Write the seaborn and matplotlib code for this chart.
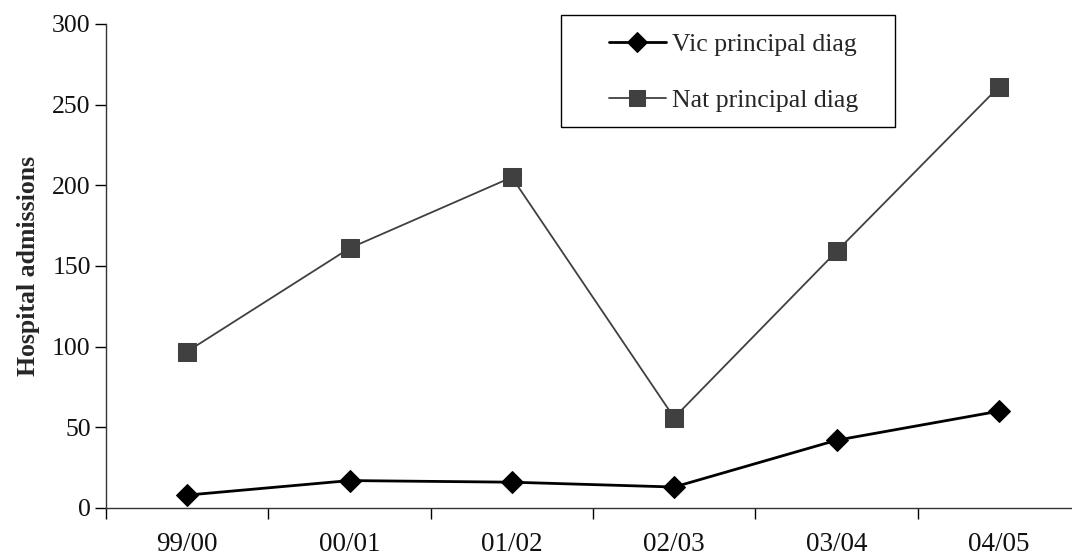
import matplotlib
matplotlib.use("Agg")
import matplotlib.pyplot as plt
import seaborn as sns
import pandas as pd
import numpy as np
from matplotlib.ticker import FixedLocator
from matplotlib.patches import Rectangle

years = ["99/00", "00/01", "01/02", "02/03", "03/04", "04/05"]
vic_principal = [8, 17, 16, 13, 42, 60]
nat_principal = [97, 161, 205, 56, 159, 261]
y_ticks = [0, 50, 100, 150, 200, 250, 300]

sns.set_theme(style="white")
plt.rcParams['font.family'] = ['Liberation Serif', 'DejaVu Serif']

W, H = 1072, 556
fig = plt.figure(figsize=(W / 100, H / 100), dpi=100)
ax = fig.add_axes([106 / W, 48 / H, (1080 - 106) / W, 484 / H])

df = pd.DataFrame({"year": years, "Vic principal diag": vic_principal,
                   "Nat principal diag": nat_principal})

sns.lineplot(data=df, x="year", y="Nat principal diag", ax=ax, color="#404040",
             lw=1.3, marker="s", markersize=12.5, markerfacecolor="#404040",
             markeredgecolor="#404040", label="Nat principal diag", sort=False)
sns.lineplot(data=df, x="year", y="Vic principal diag", ax=ax, color="black",
             lw=2, marker="D", markersize=11, markerfacecolor="black",
             markeredgecolor="black", label="Vic principal diag", sort=False)

ax.set_xlim(-0.5, 5.5)
ax.set_ylim(0, 300)
ax.set_yticks(y_ticks)
ax.tick_params(axis='y', which='major', length=8, width=1, direction='out',
               labelsize=18.5, color='black', left=True, pad=3)
ax.tick_params(axis='x', which='major', length=0, labelsize=19.5, pad=17)
ax.xaxis.set_minor_locator(FixedLocator(np.arange(-0.5, 6.0, 1.0)))
ax.tick_params(axis='x', which='minor', length=8, width=1, direction='out',
               color='black', bottom=True)
for lab in ax.get_xticklabels() + ax.get_yticklabels():
    lab.set_color("#111111")

for s in ["top", "right"]:
    ax.spines[s].set_visible(False)
for s in ["left", "bottom"]:
    ax.spines[s].set_color("#333333")
    ax.spines[s].set_linewidth(1)

ax.set_xlabel("")
ax.set_ylabel("Hospital admissions", fontsize=18.5, fontweight="bold", labelpad=9)

handles, labels = ax.get_legend_handles_labels()
if ax.get_legend() is not None:
    ax.get_legend().remove()

# legend box
box = Rectangle((561 / W, (H - 127) / H), 334 / W, 112 / H, transform=fig.transFigure,
                facecolor="white", edgecolor="black", lw=1, zorder=5)
fig.patches.append(box)

order = [labels.index("Vic principal diag"), labels.index("Nat principal diag")]
leg = fig.legend([handles[i] for i in order], [labels[i] for i in order],
                 loc="upper left", bbox_to_anchor=(609 / W, (H - 33) / H),
                 frameon=False, fontsize=18.5,
                 handlelength=2.2, handletextpad=0.25, borderpad=0,
                 labelspacing=1.3, borderaxespad=0)
leg.set_zorder(6)
for h in leg.legend_handles:
    h.set_markersize(h.get_markersize() * 0.95)

fig.savefig("out.png", dpi=100)
